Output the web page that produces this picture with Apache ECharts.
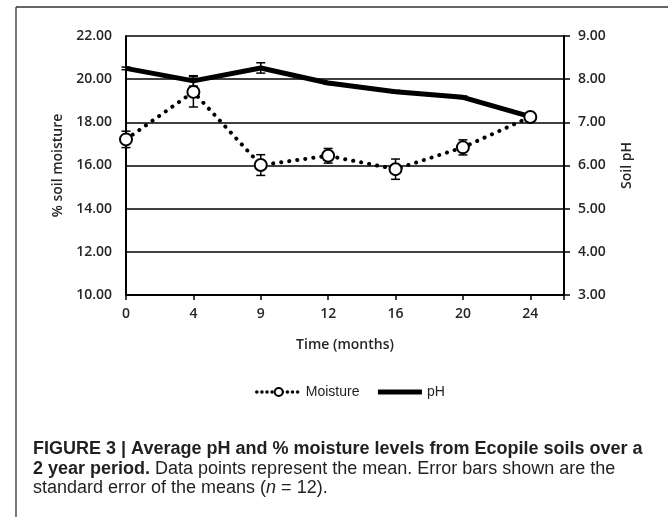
<!DOCTYPE html>
<html><head><meta charset="utf-8">
<script src="https://cdn.jsdelivr.net/npm/echarts@6/dist/echarts.min.js"></script>
<style>html,body{margin:0;padding:0;background:#fff}#c{width:668px;height:517px}</style>
</head><body><div id="c"></div>
<script>
const months = ['0', '4', '9', '12', '16', '20', '24'];
const moisture = [17.21, 19.41, 16.02, 16.45, 15.83, 16.84, 18.25];
const moistureErr = [0.38, 0.70, 0.48, 0.34, 0.47, 0.35, 0.12];
const ph = [8.25, 7.96, 8.26, 7.91, 7.71, 7.58, 7.13];
const phErr = [0.03, 0.12, 0.12, 0.03, 0.03, 0.03, 0.03];

const chart = echarts.init(document.getElementById('c'), null, {renderer: 'canvas'});
const axisFont = {fontFamily: 'Open Sans', fontSize: 14, fontWeight: 600, color: '#262626'};

function errRender(params, api) {
  const x = api.value(0), lo = api.value(1), hi = api.value(2);
  const p1 = api.coord([x, hi]), p2 = api.coord([x, lo]);
  const w = 4.5, st = {stroke: '#000', lineWidth: 1.5};
  return {type: 'group', children: [
    {type: 'line', shape: {x1: p1[0], y1: p1[1], x2: p2[0], y2: p2[1]}, style: st},
    {type: 'line', shape: {x1: p1[0] - w, y1: p1[1], x2: p1[0] + w, y2: p1[1]}, style: st},
    {type: 'line', shape: {x1: p2[0] - w, y1: p2[1], x2: p2[0] + w, y2: p2[1]}, style: st}
  ]};
}

const capFont = 'Liberation Sans';
const capColor = '#231f20';
chart.setOption({
  animation: false,
  grid: {left: 126, right: 104, top: 36, bottom: 222},
  legend: {
    data: [
      {name: 'Moisture', lineStyle: {width: 3.5, type: [0.1, 5], cap: 'round', color: '#000'}},
      {name: 'pH', itemStyle: {color: 'rgba(0,0,0,0)', borderWidth: 0}, lineStyle: {width: 5, color: '#000'}}
    ],
    left: 250, top: 380, itemWidth: 44, itemHeight: 10, itemGap: 16,
    textStyle: {fontFamily: 'Liberation Sans', fontSize: 14, color: '#222'}
  },
  xAxis: {
    type: 'value', min: 0, max: 6.5, interval: 1,
    name: 'Time (months)', nameLocation: 'middle', nameGap: 43,
    nameTextStyle: Object.assign({}, axisFont),
    axisLine: {show: true, lineStyle: {color: '#000', width: 2}},
    axisTick: {show: true, length: 5, lineStyle: {color: '#000', width: 1.5}},
    axisLabel: Object.assign({margin: 12, formatter: v => (months[v] !== undefined ? months[v] : '')}, axisFont),
    splitLine: {show: false}
  },
  yAxis: [{
    type: 'value', min: 10, max: 22, interval: 2, position: 'left',
    name: '% soil moisture', nameLocation: 'middle', nameGap: 60, nameRotate: 90,
    nameTextStyle: Object.assign({}, axisFont),
    axisLine: {show: true, lineStyle: {color: '#000', width: 2}},
    axisTick: {show: false},
    axisLabel: Object.assign({margin: 14, formatter: v => v.toFixed(2)}, axisFont),
    splitLine: {show: true, lineStyle: {color: '#000', width: 1.5}}
  }, {
    type: 'value', min: 3, max: 9, interval: 1, position: 'right',
    name: 'Soil pH', nameLocation: 'middle', nameGap: 56, nameRotate: 90,
    nameTextStyle: Object.assign({}, axisFont),
    axisLine: {show: true, lineStyle: {color: '#000', width: 2}},
    axisTick: {show: true, length: 6, lineStyle: {color: '#000', width: 1.5}},
    axisLabel: Object.assign({margin: 14, formatter: v => v.toFixed(2)}, axisFont),
    splitLine: {show: false}
  }],
  series: [
    {
      type: 'custom', name: 'phErr', yAxisIndex: 1, z: 1, renderItem: errRender,
      data: ph.map((v, i) => [i, v - phErr[i], v + phErr[i]])
    },
    {
      type: 'custom', name: 'moistErr', yAxisIndex: 0, z: 1, renderItem: errRender,
      data: moisture.map((v, i) => [i, v - moistureErr[i], v + moistureErr[i]])
    },
    {
      type: 'line', name: 'pH', yAxisIndex: 1, z: 2, symbol: 'none',
      lineStyle: {color: '#000', width: 5},
      itemStyle: {color: '#000'},
      data: ph.map((v, i) => [i, v])
    },
    {
      type: 'line', name: 'Moisture', yAxisIndex: 0, z: 3,
      symbol: 'circle', symbolSize: 12,
      itemStyle: {color: '#fff', borderColor: '#000', borderWidth: 2},
      lineStyle: {color: '#000', width: 4, type: [0.1, 8], cap: 'round'},
      data: moisture.map((v, i) => [i, v])
    }
  ],
  graphic: [
    {type: 'line', shape: {x1: 16, y1: 7, x2: 668, y2: 7}, style: {stroke: '#333', lineWidth: 1.3}},
    {type: 'line', shape: {x1: 16, y1: 7, x2: 16, y2: 517}, style: {stroke: '#333', lineWidth: 1.3}},
    {type: 'text', left: 33, top: 440, style: {
      text: 'FIGURE 3 | Average pH and % moisture levels from Ecopile soils over a',
      font: 'bold 18px ' + capFont, fill: capColor}},
    {type: 'text', left: 33, top: 460, style: {
      text: '{b|2 year period.}{r| Data points represent the mean. Error bars shown are the}',
      rich: {b: {font: 'bold 18px ' + capFont, fill: capColor}, r: {font: '18px ' + capFont, fill: capColor}}}},
    {type: 'text', left: 33, top: 479, style: {
      text: '{r|standard error of the means (}{i|n}{r| = 12).}',
      rich: {r: {font: '18px ' + capFont, fill: capColor}, i: {font: 'italic 18px ' + capFont, fill: capColor}}}}
  ]
});
</script></body></html>
